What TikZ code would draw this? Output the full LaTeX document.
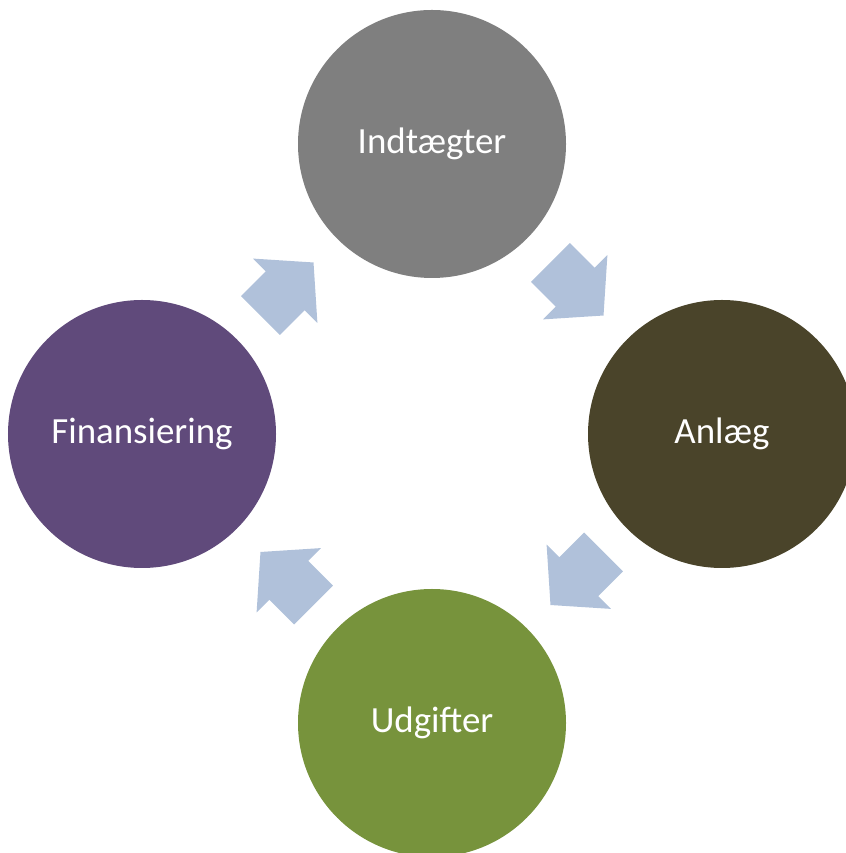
\documentclass[tikz,border=0pt]{standalone}
\usepackage{fontspec}
\setmainfont{Carlito}
\usetikzlibrary{calc}
\definecolor{cyclearrow}{HTML}{B0C1DA}
\definecolor{indgrey}{HTML}{7F7F7F}
\definecolor{anlolive}{HTML}{4A442A}
\definecolor{udggreen}{HTML}{77933C}
\definecolor{finpurple}{HTML}{604A7B}
\tikzset{stage/.style={circle, minimum size=5.36cm, inner sep=0pt, text=white, font=\fontsize{21}{25}\selectfont}}

\begin{document}
\begin{tikzpicture}
\useasboundingbox (0,0) rectangle (16.92,17.06);
%draw circles
\node[stage, fill=indgrey] (ind) at (8.64,14.18) {Indtægter};
\node[stage, fill=anlolive] (anl) at (14.44,8.38) {Anlæg};
\node[stage, fill=udggreen] (udg) at (8.64,2.6) {Udgifter};
\node[stage, fill=finpurple] (fin) at (2.84,8.38) {Finansiering};

%draw arrows between circles
\foreach \a/\b/\ang in {ind/anl/-45, anl/udg/-135, udg/fin/135, fin/ind/45}
  \fill[cyclearrow, shift={($(\a)!0.5!(\b)$)}, rotate=\ang]
    (-0.75,-0.55) -- (-0.05,-0.55) -- (-0.05,-0.91) -- (0.75,0)
    -- (-0.05,0.91) -- (-0.05,0.55) -- (-0.75,0.55) -- cycle;
\end{tikzpicture}
\end{document}
